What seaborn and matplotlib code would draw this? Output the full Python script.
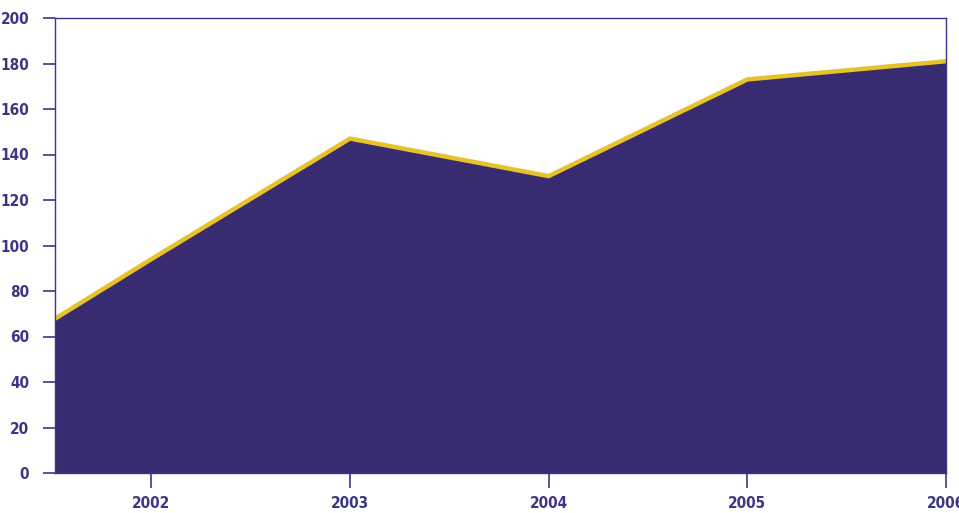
import matplotlib
matplotlib.use("Agg")
import matplotlib.pyplot as plt
import seaborn as sns
import pandas as pd

# Annual totals
years = [2001, 2002, 2003, 2004, 2005, 2006]
values = [40, 94, 147, 130.5, 173, 181]
xtick_labels = ["2002", "2003", "2004", "2005", "2006"]
ytick_values = list(range(0, 201, 20))

PURPLE = "#382b6f"
FRAME = "#3d3585"
GOLD = "#e6c22c"

sns.set_theme(style="white")
plt.rcParams["font.family"] = ["DejaVu Sans"]
plt.rcParams["font.stretch"] = "condensed"

df = pd.DataFrame({"year": years, "value": values})

fig, ax = plt.subplots(figsize=(9.59, 5.13), dpi=100)
fig.subplots_adjust(left=55 / 959, right=946 / 959, top=1 - 18 / 513, bottom=40 / 513)

ax.fill_between(df["year"], df["value"], 0, color=PURPLE, linewidth=0, zorder=1)
sns.lineplot(data=df, x="year", y="value", color=GOLD, linewidth=3.2, ax=ax, zorder=2)

ax.set_xlim(2001.515, 2006)
ax.set_ylim(0, 200)
ax.set_xticks([int(t) for t in xtick_labels])
ax.set_xticklabels(xtick_labels)
ax.set_yticks(ytick_values)
ax.set_xlabel("")
ax.set_ylabel("")

for sp in ax.spines.values():
    sp.set_visible(True)
    sp.set_color(FRAME)
    sp.set_linewidth(1.0)

ax.tick_params(axis="y", direction="out", length=8.6, width=1.2, color=FRAME,
               labelcolor=FRAME, labelsize=11, pad=10, left=True)
ax.tick_params(axis="x", direction="out", length=10.8, width=1.2, color=FRAME,
               labelcolor=FRAME, labelsize=11, pad=6, bottom=True)
for lab in ax.get_xticklabels() + ax.get_yticklabels():
    lab.set_fontweight("bold")
    lab.set_fontstretch("condensed")

fig.savefig("out.png", dpi=100)
